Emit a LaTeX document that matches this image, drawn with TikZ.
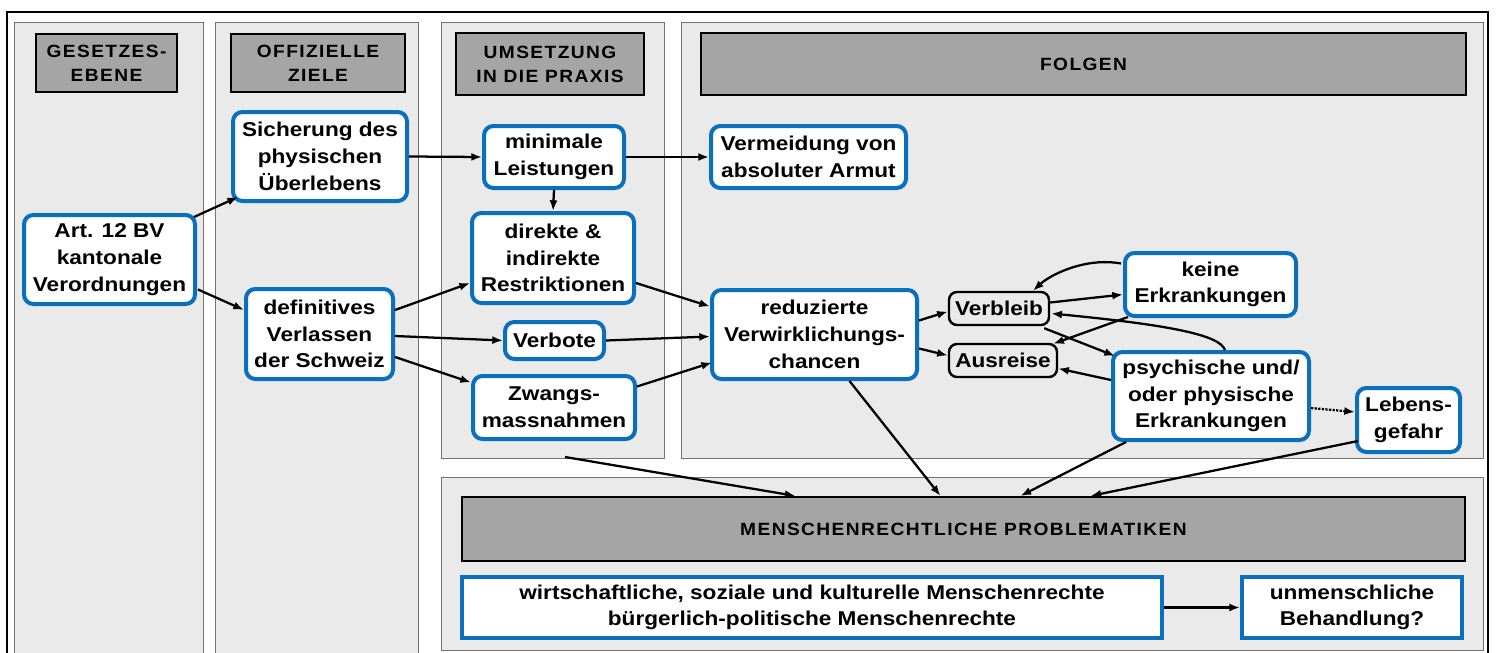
\documentclass[tikz,border=0pt]{standalone}
\usepackage{fontspec}
\setmainfont{Liberation Sans}
\newfontfamily\hdrfam[LetterSpace=8,FakeStretch=1.08]{Liberation Sans}
\newfontfamily\nodefam[FakeStretch=1.13]{Liberation Sans}
\usetikzlibrary{arrows.meta,calc}
\definecolor{myblue}{HTML}{0A70BE}
\definecolor{panelgray}{HTML}{EAEAEA}
\definecolor{hdrgray}{HTML}{A5A5A5}
\def\pxu{*0.75pt}
\begin{document}
\begin{tikzpicture}[x=0.75pt,y=-0.75pt,
  panel/.style={draw=black!55, line width=0.6pt, fill=panelgray},
  hdr/.style={draw=black, line width=1.6pt, fill=hdrgray, align=center, inner sep=0pt,
    font=\hdrfam\bfseries\fontsize{13.3}{18}\selectfont},
  bbox/.style={draw=myblue, line width=3pt, rounded corners=7pt, fill=white, align=center, inner sep=0pt,
    font=\nodefam\bfseries\fontsize{15}{20}\selectfont},
  kbox/.style={draw=black, line width=1.8pt, rounded corners=6pt, fill=panelgray, align=center, inner sep=0pt,
    font=\nodefam\bfseries\fontsize{15}{20}\selectfont},
  sbox/.style={draw=myblue, line width=3pt, fill=white, align=center, inner sep=0pt,
    font=\nodefam\bfseries\fontsize{15}{20}\selectfont},
  arr/.style={-{Latex[length=8pt,width=6pt]}, line width=1.7pt},
  darr/.style={-{Latex[length=8pt,width=6pt]}, line width=1.7pt, densely dotted}]
\useasboundingbox (0,0) rectangle (1496,653);
\clip (0,0) rectangle (1496,653);
% outer frame
\draw[line width=1.6pt] (7,12) rectangle (1488,700);
% panels
\draw[panel] (14,22) rectangle (203,700);
\draw[panel] (215,22) rectangle (418,700);
\draw[panel] (441,22) rectangle (664,458);
\draw[panel] (681,22) rectangle (1483,458);
\draw[panel] (441,477) rectangle (1483,650);
% headers
\node[hdr, minimum width=141\pxu, minimum height=58\pxu] (h1) at (106.5,63) {GESETZES-\\EBENE};
\node[hdr, minimum width=174\pxu, minimum height=58\pxu] (h2) at (318,63) {OFFIZIELLE\\ZIELE};
\node[hdr, minimum width=188\pxu, minimum height=62\pxu] (h3) at (550,64) {UMSETZUNG\\IN DIE PRAXIS};
\node[hdr, minimum width=765\pxu, minimum height=62\pxu] (h4) at (1083.5,64) {FOLGEN};
\node[hdr, minimum width=1003\pxu, minimum height=64\pxu] (mensch) at (963.5,529) {MENSCHENRECHTLICHE PROBLEMATIKEN};
% blue nodes
\node[bbox, minimum width=171\pxu, minimum height=89\pxu] (art) at (109.5,259.5) {Art. 12 BV\\kantonale\\Verordnungen};
\node[bbox, minimum width=174\pxu, minimum height=89\pxu] (sich) at (320,156.5) {Sicherung des\\physischen\\Überlebens};
\node[bbox, minimum width=147\pxu, minimum height=90\pxu] (defin) at (319.5,334) {definitives\\Verlassen\\der Schweiz};
\node[bbox, minimum width=140\pxu, minimum height=62\pxu] (mini) at (554,157) {minimale\\Leistungen};
\node[bbox, minimum width=162\pxu, minimum height=90\pxu] (dir) at (553,258) {direkte \&\\indirekte\\Restriktionen};
\node[bbox, minimum width=99\pxu, minimum height=37\pxu] (verb) at (554.5,340.5) {Verbote};
\node[bbox, minimum width=162\pxu, minimum height=63\pxu] (zwang) at (554,407.5) {Zwangs-\\massnahmen};
\node[bbox, minimum width=195\pxu, minimum height=62\pxu] (verm) at (808.5,157) {Vermeidung von\\absoluter Armut};
\node[bbox, minimum width=205\pxu, minimum height=89\pxu] (red) at (814.5,334.5) {reduzierte\\Verwirklichungs-\\chancen};
\node[bbox, minimum width=171\pxu, minimum height=63\pxu] (keine) at (1210.5,284.5) {keine\\Erkrankungen};
\node[kbox, minimum width=100\pxu, minimum height=33\pxu] (verbl) at (999,308.5) {Verbleib};
\node[kbox, minimum width=108\pxu, minimum height=33\pxu] (ausr) at (1003,360.5) {Ausreise};
\node[bbox, minimum width=196\pxu, minimum height=88\pxu] (psych) at (1211,396) {psychische und/\\oder physische\\Erkrankungen};
\node[bbox, minimum width=103\pxu, minimum height=64\pxu] (leben) at (1408.5,420) {Lebens-\\gefahr};
\node[sbox, minimum width=700\pxu, minimum height=61\pxu] (wirt) at (812,607.5) {wirtschaftliche, soziale und kulturelle Menschenrechte\\bürgerlich-politische Menschenrechte};
\node[sbox, minimum width=220\pxu, minimum height=61\pxu] (unm) at (1352,607.5) {unmenschliche\\Behandlung?};
\coordinate (src3) at (565,457);
% arrows
\draw[arr] ([shift={(-3,4)}]art.north east) -- ([shift={(7,-6)}]sich.south west);
\draw[arr] ([shift={(1,30)}]art.east) -- ([shift={(0,-24)}]defin.west);
\draw[arr] (sich.east) -- (mini.west);
\draw[arr] (mini.east) -- (verm.west);
\draw[arr] (mini.south) -- (dir.north);
\draw[arr] ([shift={(0,-24)}]defin.east) -- ([shift={(0,25)}]dir.west);
\draw[arr] ([shift={(0,2)}]defin.east) -- (verb.west);
\draw[arr] ([shift={(0,23)}]defin.east) -- ([shift={(0,-25)}]zwang.west);
\draw[arr] ([shift={(0,25)}]dir.east) -- ([shift={(0,-28)}]red.west);
\draw[arr] (verb.east) -- ([shift={(0,2)}]red.west);
\draw[arr] ([shift={(0,-21)}]zwang.east) -- ([shift={(2,28)}]red.west);
\draw[arr] ([shift={(0,-14)}]red.east) -- ([shift={(0,3)}]verbl.west);
\draw[arr] ([shift={(0,14)}]red.east) -- ([shift={(0,-5)}]ausr.west);
\draw[arr] ([shift={(0,-6)}]verbl.east) -- ([shift={(0,10)}]keine.west);
\draw[arr] ([shift={(-2,-21)}]keine.west) .. controls (1085,257) and (1050,275) .. ([shift={(34,0)}]verbl.north);
\draw[arr] ([shift={(5,-1)}]keine.south west) -- ([shift={(-5,1)}]ausr.north east);
\draw[arr] ([shift={(-6,2)}]verbl.south east) -- ([shift={(4,6)}]psych.north west);
\draw[arr] ([shift={(14,0)}]psych.north) .. controls (1220,335) and (1170,325) .. ([shift={(1,5)}]verbl.east);
\draw[arr] ([shift={(0,-16)}]psych.west) -- ([shift={(0,8)}]ausr.east);
\draw[darr] ([shift={(0,12)}]psych.east) -- ([shift={(0,-8)}]leben.west);
\draw[arr] (src3) -- ([shift={(-168,0)}]mensch.north);
\draw[arr] ([shift={(35,0)}]red.south) -- ([shift={(-23,0)}]mensch.north);
\draw[arr] ([shift={(15,0)}]psych.south west) -- ([shift={(57,0)}]mensch.north);
\draw[arr] ([shift={(3,21)}]leben.west) -- ([shift={(127,0)}]mensch.north);
\draw[arr] (wirt.east) -- (unm.west);
\end{tikzpicture}
\end{document}
